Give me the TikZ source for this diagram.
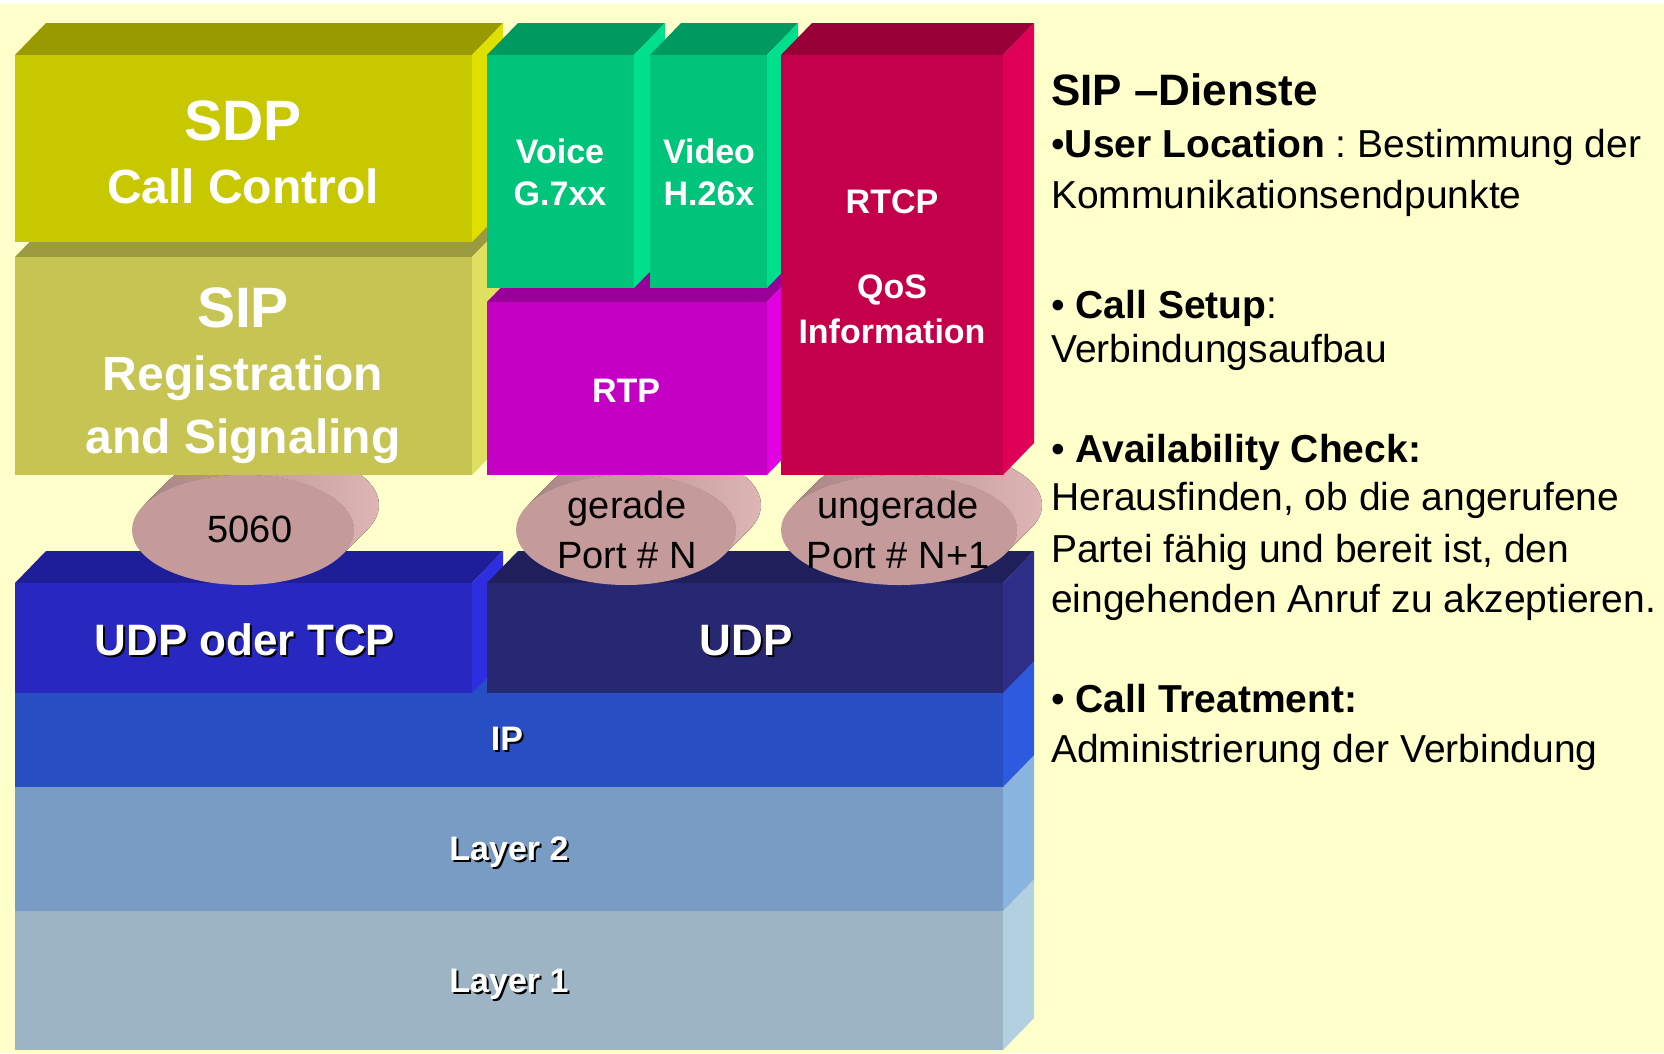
\documentclass[tikz,border=0pt]{standalone}
\usepackage{fontspec}
\setmainfont{Liberation Sans}
\usetikzlibrary{calc}
\frenchspacing

\definecolor{bg}{HTML}{FFFFCC}
\definecolor{sdpfront}{HTML}{C8C800}
\definecolor{sdptop}{HTML}{999900}
\definecolor{sdpside}{HTML}{E0E000}
\definecolor{sipfront}{HTML}{C6C452}
\definecolor{siptop}{HTML}{9A9A40}
\definecolor{sipside}{HTML}{E0E060}
\definecolor{avfront}{HTML}{00C47A}
\definecolor{avtop}{HTML}{00995F}
\definecolor{avside}{HTML}{00E08C}
\definecolor{rtpfront}{HTML}{C400C4}
\definecolor{rtptop}{HTML}{990099}
\definecolor{rtpside}{HTML}{E000E0}
\definecolor{rtcpfront}{HTML}{C4004A}
\definecolor{rtcptop}{HTML}{990038}
\definecolor{rtcpside}{HTML}{E00058}
\definecolor{tcpfront}{HTML}{2828C0}
\definecolor{tcptop}{HTML}{1E1E99}
\definecolor{tcpside}{HTML}{2E2EE0}
\definecolor{udpfront}{HTML}{282872}
\definecolor{udptop}{HTML}{1F1F5C}
\definecolor{udpside}{HTML}{2E2E88}
\definecolor{ipfront}{HTML}{284EC4}
\definecolor{ipside}{HTML}{2E5AE0}
\definecolor{ltwofront}{HTML}{789CC4}
\definecolor{ltwoside}{HTML}{8AB4E0}
\definecolor{lonefront}{HTML}{9CB4C4}
\definecolor{loneside}{HTML}{B2D0E0}
\definecolor{diskfront}{HTML}{C49A9A}
\definecolor{diskdark}{HTML}{A98585}
\definecolor{disklight}{HTML}{E2B8B8}

% front, top and side face of one block: x1, y1, x2, y2, front, top, side
\newcommand{\layerblock}[7]{%
  \fill[#6] (#1,#2) -- ++(\dx,-\dy) -- ($(#3,#2)+(\dx,-\dy)$) -- (#3,#2) -- cycle;
  \fill[#7] (#3,#2) -- ++(\dx,-\dy) -- ($(#3,#4)+(\dx,-\dy)$) -- (#3,#4) -- cycle;
  \fill[#5] (#1,#2) rectangle (#3,#4);
}

% port cylinder: x, y, x radius, name
\newcommand{\portdisk}[4]{%
  \pgfmathsetmacro{\tang}{atan(55*25/(#3*25))}
  \fill[left color=diskdark,right color=disklight]
    ($(#1,#2)+(\tang:#3 and 55)$) -- ++(25,-25)
    arc[start angle=\tang,end angle=\tang-180,x radius=#3,y radius=55]
    -- ($(#1,#2)+(\tang-180:#3 and 55)$)
    arc[start angle=\tang-180,end angle=\tang,x radius=#3,y radius=55] -- cycle;
  \fill[diskfront] (#1,#2) ellipse[x radius=#3,y radius=55];
  \coordinate (#4) at (#1,#2);
}

% white label with a dark shadow
\newcommand{\shadowlabel}[4]{%
  \node[#4,text=black,anchor=base] (#1s) at ($(#2)+(2,2)$) {#3};
  \node[#4,anchor=base] (#1) at (#2) {#3};
}

\tikzset{
  bigtxt/.style={text=white,inner sep=0,font=\bfseries\fontsize{57}{60}\selectfont},
  midtxt/.style={text=white,inner sep=0,font=\bfseries\fontsize{48}{50}\selectfont},
  smalltxt/.style={text=white,inner sep=0,font=\bfseries\fontsize{34}{40}\selectfont},
  udptxt/.style={text=white,inner sep=0,font=\bfseries\fontsize{44}{48}\selectfont},
  porttxt/.style={inner sep=0,anchor=base,font=\fontsize{38}{44}\selectfont},
  infohead/.style={inner sep=0,anchor=base west,font=\bfseries\fontsize{44}{50}\selectfont},
  info/.style={inner sep=0,anchor=base west,font=\fontsize{39}{46}\selectfont},
}

\begin{document}
\begin{tikzpicture}[x=1pt,y=-1pt]
\def\dx{31}
\def\dy{32}

\useasboundingbox (0,0) rectangle (1664,1053);
\fill[bg] (0,0) rectangle (1664,1053);
\fill[white] (0,0) rectangle (1664,4);

% network layers
\layerblock{15}{911}{1003}{1050}{lonefront}{lonefront}{loneside}
\layerblock{15}{787}{1003}{911}{ltwofront}{ltwofront}{ltwoside}
\layerblock{15}{693}{1003}{787}{ipfront}{ipfront}{ipside}
\layerblock{15}{583}{472}{693}{tcpfront}{tcptop}{tcpside}
\layerblock{487}{583}{1003}{693}{udpfront}{udptop}{udpside}

% ports
\portdisk{243}{530}{111}{p5060}
\portdisk{626}{530}{110}{peven}
\portdisk{899}{530}{118}{podd}

% application blocks
\layerblock{15}{257}{472}{475}{sipfront}{siptop}{sipside}
\layerblock{15}{55}{472}{242}{sdpfront}{sdptop}{sdpside}
\layerblock{487}{302}{767}{475}{rtpfront}{rtptop}{rtpside}
\layerblock{487}{55}{634}{288}{avfront}{avtop}{avside}
\layerblock{650}{55}{767}{288}{avfront}{avtop}{avside}
\layerblock{781}{55}{1003}{475}{rtcpfront}{rtcptop}{rtcpside}

\node[bigtxt,anchor=base] (sdp) at (243,140) {SDP};
\node[midtxt,anchor=base] (callctl) at (243,203) {Call Control};
\node[bigtxt,anchor=base] (sip) at (243,327) {SIP};
\node[midtxt,anchor=base] (reg) at (243,390) {Registration};
\node[midtxt,anchor=base] (sig) at (243,453) {and Signaling};

\node[smalltxt,anchor=base] (voice) at (560,163) {Voice};
\node[smalltxt,anchor=base] (gcodec) at (560,205) {G.7xx};
\node[smalltxt,anchor=base] (video) at (709,163) {Video};
\node[smalltxt,anchor=base] (hcodec) at (709,205) {H.26x};
\node[smalltxt,anchor=base] (rtp) at (626,402) {RTP};
\node[smalltxt,anchor=base] (rtcp) at (892,213) {RTCP};
\node[smalltxt,anchor=base] (qos) at (892,298) {QoS};
\node[smalltxt,anchor=base] (qosinfo) at (892,343) {Information};

\node[porttxt] (t5060) at (250,542) {5060};
\node[porttxt] (even) at (627,518) {gerade};
\node[porttxt] (evenport) at (627,568) {Port \# N};
\node[porttxt] (odd) at (898,518) {ungerade};
\node[porttxt] (oddport) at (898,568) {Port \# N+1};

\coordinate (tcppos) at (245,655);
\coordinate (udppos) at (746,655);
\coordinate (ippos) at (507,750);
\coordinate (ltwopos) at (509,860);
\coordinate (lonepos) at (509,992);
\shadowlabel{tcp}{tcppos}{UDP oder TCP}{udptxt}
\shadowlabel{udp}{udppos}{UDP}{udptxt}
\shadowlabel{ip}{ippos}{IP}{smalltxt}
\shadowlabel{ltwo}{ltwopos}{Layer 2}{smalltxt}
\shadowlabel{lone}{lonepos}{Layer 1}{smalltxt}

% services
\node[infohead] (head) at (1051,105) {SIP –Dienste};
\node[info] (loc) at (1051,157) {•\textbf{User Location} : Bestimmung der};
\node[info] (loctxt) at (1051,208) {Kommunikationsendpunkte};
\node[info] (setup) at (1051,318) {• \textbf{Call Setup}:};
\node[info] (setuptxt) at (1051,362) {Verbindungsaufbau};
\node[info] (avail) at (1051,462) {• \textbf{Availability Check:}};
\node[info] (availa) at (1051,510) {Herausfinden, ob die angerufene};
\node[info] (availb) at (1051,562) {Partei fähig und bereit ist, den};
\node[info] (availc) at (1051,612) {eingehenden Anruf zu akzeptieren.};
\node[info] (treat) at (1051,712) {• \textbf{Call Treatment:}};
\node[info] (treattxt) at (1051,762) {Administrierung der Verbindung};

\end{tikzpicture}
\end{document}
